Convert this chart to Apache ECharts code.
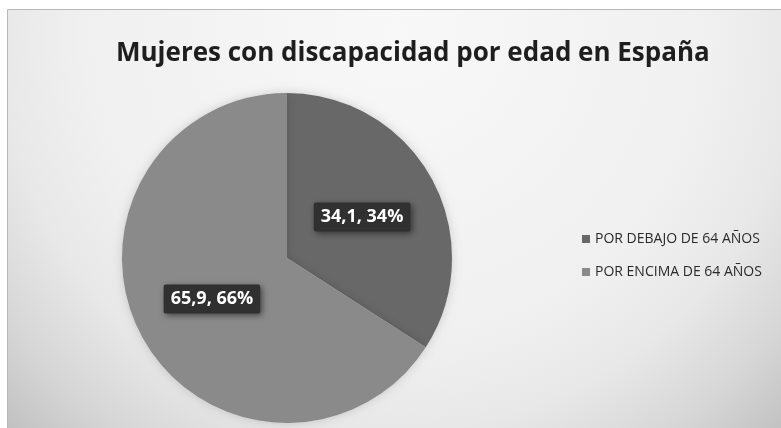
<!DOCTYPE html>
<html>
<head>
<meta charset="utf-8">
<script src="https://cdn.jsdelivr.net/npm/echarts@6/dist/echarts.min.js"></script>
<style>
  html, body { margin: 0; padding: 0; background: #fff; }
  #chart { width: 781px; height: 428px; }
</style>
</head>
<body>
<div id="chart"></div>
<script>
var titleText = 'Mujeres con discapacidad por edad en España';
var categories = ['POR DEBAJO DE 64 AÑOS', 'POR ENCIMA DE 64 AÑOS'];
var values = [34.1, 65.9];
var sliceColors = ['#686868', '#8a8a8a'];

var chart = echarts.init(document.getElementById('chart'));

var pieData = categories.map(function (name, i) {
    return { name: name, value: values[i], itemStyle: { color: sliceColors[i] } };
});

chart.setOption({
    animation: false,
    graphic: [{
        type: 'rect',
        z: -10,
        silent: true,
        shape: { x: 7.5, y: 9.5, width: 780, height: 425 },
        style: {
            fill: {
                type: 'radial', x: 0.5, y: 0.05, r: 1.34,
                colorStops: [
                    { offset: 0, color: '#f8f8f8' },
                    { offset: 0.55, color: '#f0f0f0' },
                    { offset: 0.7, color: '#e8e8e8' },
                    { offset: 0.85, color: '#d6d6d6' },
                    { offset: 1, color: '#bdbdbd' }
                ]
            },
            stroke: '#b8b8b8',
            lineWidth: 1
        }
    }],
    title: {
        text: titleText,
        left: 111,
        top: 36,
        textStyle: {
            fontFamily: 'Open Sans',
            fontWeight: 'bold',
            fontSize: 26,
            color: '#1e1e1e'
        }
    },
    legend: {
        orient: 'vertical',
        left: 577,
        top: 226,
        itemWidth: 8,
        itemHeight: 8,
        itemGap: 17,
        icon: 'rect',
        textStyle: { fontFamily: 'Open Sans', fontSize: 14, lineHeight: 16, color: '#2a2a2a' },
        data: categories
    },
    series: [{
        type: 'pie',
        center: [287, 258],
        radius: 165,
        startAngle: 90,
        clockwise: true,
        data: pieData,
        itemStyle: {
            shadowBlur: 10,
            shadowColor: 'rgba(0,0,0,0.16)'
        },
        label: {
            position: 'inside',
            formatter: function (p) {
                return String(p.value).replace('.', ',') + ', ' + Math.round(p.percent) + '%';
            },
            fontFamily: 'Open Sans',
            fontWeight: 'bold',
            fontSize: 18,
            color: '#fff',
            backgroundColor: '#303030',
            padding: [6, 7, 5, 7],
            borderRadius: 2,
            shadowBlur: 6,
            shadowColor: 'rgba(0,0,0,0.5)',
            shadowOffsetX: 2,
            shadowOffsetY: 2
        },
        labelLine: { show: false },
        emphasis: { disabled: true }
    }]
});
</script>
</body>
</html>
